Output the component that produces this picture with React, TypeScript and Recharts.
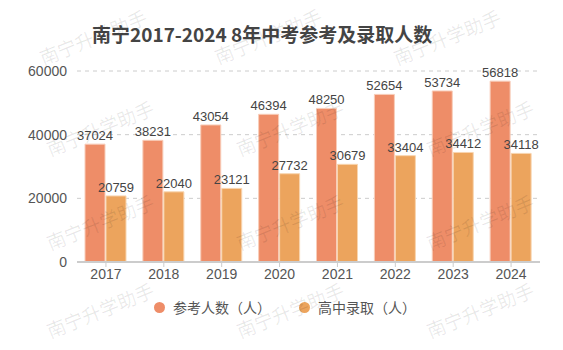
import { BarChart, Bar, XAxis, YAxis, CartesianGrid, LabelList } from "recharts";

const years = ["2017", "2018", "2019", "2020", "2021", "2022", "2023", "2024"];
const candidates = [37024, 38231, 43054, 46394, 48250, 52654, 53734, 56818];
const admitted = [20759, 22040, 23121, 27732, 30679, 33404, 34412, 34118];
const yTicks = [0, 20000, 40000, 60000];

const series = [
  { key: "candidates", name: "参考人数（人）", fill: "#EE8D68", stroke: "#F8CDB9" },
  { key: "admitted", name: "高中录取（人）", fill: "#ECA45D", stroke: "#F8D5B0" },
];

const data = years.map((year, i) => ({
  year,
  candidates: candidates[i],
  admitted: admitted[i],
}));

// watermark centres (x, y)
const marks = [
  [93, 37], [268, 36], [447, 37],
  [100, 128], [290, 128], [480, 128],
  [100, 222], [290, 222], [480, 222],
  [100, 310], [290, 310], [480, 310],
];

const cjk = "'Noto Sans CJK SC', 'Noto Sans', sans-serif";
const num = "'Liberation Sans', Arial, sans-serif";

export default function App() {
  return (
    <div style={{ position: "absolute", left: 0, top: 0, width: 563, height: 350, background: "#fff", overflow: "hidden" }}>
      <div
        style={{
          position: "absolute",
          left: 92,
          top: 22,
          fontFamily: cjk,
          fontWeight: "bold",
          fontSize: 19,
          lineHeight: "24px",
          color: "#444",
          whiteSpace: "nowrap",
        }}
      >
        南宁2017-2024 8年中考参考及录取人数
      </div>

      <BarChart
        width={563}
        height={350}
        data={data}
        margin={{ top: 71, right: 23, bottom: 58, left: 0 }}
        barGap={1}
        barSize={20}
      >
        <CartesianGrid vertical={false} stroke="#ccc" strokeDasharray="4 4" />
        <XAxis
          dataKey="year"
          axisLine={{ stroke: "#ccc", strokeWidth: 2 }}
          tickLine={{ stroke: "#ccc" }}
          tickSize={5}
          tick={{ fill: "#555", fontSize: 14, fontFamily: num }}
          height={30}
        />
        <YAxis
          width={77}
          domain={[0, 60000]}
          ticks={yTicks}
          axisLine={false}
          tickLine={false}
          tickMargin={4}
          tick={{ fill: "#555", fontSize: 14, fontFamily: num }}
        />
        {series.map((s) => (
          <Bar
            key={s.key}
            dataKey={s.key}
            name={s.name}
            fill={s.fill}
            stroke={s.stroke}
            strokeWidth={1}
            isAnimationActive={false}
          >
            <LabelList dataKey={s.key} position="top" offset={4} fill="#444" fontSize={13} fontFamily={num} />
          </Bar>
        ))}
      </BarChart>

      {/* legend */}
      <div
        style={{
          position: "absolute",
          left: 154,
          top: 297,
          display: "flex",
          alignItems: "center",
          fontFamily: cjk,
          fontSize: 14,
          color: "#555",
          lineHeight: "20px",
        }}
      >
        {series.map((s, i) => (
          <div key={s.key} style={{ display: "flex", alignItems: "center", marginRight: i === 0 ? 28 : 0 }}>
            <span
              style={{ width: 11, height: 11, borderRadius: "50%", background: s.fill, display: "inline-block", marginRight: 8 }}
            />
            {s.name}
          </div>
        ))}
      </div>

      {marks.map(([x, y], i) => (
        <div
          key={i}
          style={{
            position: "absolute",
            left: x - 60,
            top: y - 12,
            width: 120,
            textAlign: "center",
            transform: "rotate(-22deg)",
            fontFamily: cjk,
            fontSize: 19,
            lineHeight: "24px",
            color: "rgba(0,0,0,0.09)",
            pointerEvents: "none",
            whiteSpace: "nowrap",
          }}
        >
          南宁升学助手
        </div>
      ))}
    </div>
  );
}
